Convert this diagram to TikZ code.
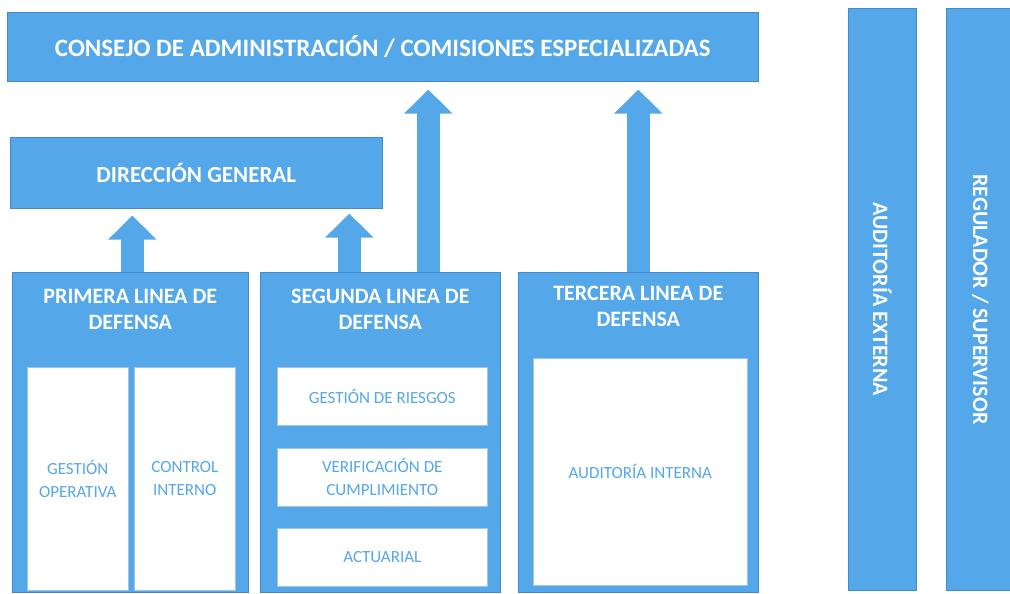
\documentclass[tikz,border=0pt]{standalone}
\usepackage{fontspec}
\setmainfont{Carlito}
\usetikzlibrary{arrows.meta}
\usetikzlibrary{positioning}
\definecolor{lod_blue}{RGB}{84,167,233}
\definecolor{lod_edge}{RGB}{66,138,200}
\tikzstyle{blue_box} = [
    rectangle, 
    draw=lod_edge, 
    fill=lod_blue, 
    line width=0.6pt, 
    text=white, 
    font=\bfseries\fontsize{23}{27}\selectfont, 
    align=center, 
    inner sep=0pt
]
\tikzstyle{white_box} = [
    rectangle, 
    draw=lod_edge!50, 
    fill=white, 
    line width=0.6pt, 
    text=lod_blue, 
    font=\fontsize{17}{23}\selectfont, 
    align=center, 
    inner sep=0pt
]
\tikzstyle{title_text} = [
    text=white, 
    font=\bfseries\fontsize{22}{26}\selectfont, 
    align=center, 
    inner sep=0pt
]
\tikzstyle{up_arrow} = [
    draw=lod_blue, 
    line width=23pt, 
    -{Triangle[width=47pt, length=24pt]}
]

\begin{document}
\begin{tikzpicture}[x=1pt, y=-1pt]
\useasboundingbox (0,0) rectangle (1010,594);

% top levels
\node [blue_box, anchor=north west, minimum width=751pt, minimum height=69pt,
    font=\bfseries\fontsize{25}{30}\selectfont] (consejo) at (7,12)
    {CONSEJO DE ADMINISTRACIÓN / COMISIONES ESPECIALIZADAS};
\node [blue_box, anchor=north west, minimum width=372pt, minimum height=71pt] (direccion) at (10,137)
    {DIRECCIÓN GENERAL};

% the three lines of defense
\node [blue_box, anchor=north west, minimum width=236pt, minimum height=320pt] (primera) at (12,272) {};
\node [blue_box, anchor=north west, minimum width=240pt, minimum height=320pt] (segunda) at (260,272) {};
\node [blue_box, anchor=north west, minimum width=240pt, minimum height=320pt] (tercera) at (518,272) {};

\node [title_text] (primera_t) at ([yshift=-37pt]primera.north) {PRIMERA LINEA DE\\DEFENSA};
\node [title_text] (segunda_t) at ([yshift=-37pt]segunda.north) {SEGUNDA LINEA DE\\DEFENSA};
\node [title_text] (tercera_t) at ([yshift=-34pt]tercera.north) {TERCERA LINEA DE\\DEFENSA};

\node [white_box, anchor=north west, minimum width=101pt, minimum height=223pt] (gestion_op) at (27,367)
    {GESTIÓN\\OPERATIVA};
\node [white_box, anchor=north west, minimum width=101pt, minimum height=223pt] (control) at (134,367)
    {CONTROL\\INTERNO};

\node [white_box, anchor=north west, minimum width=210pt, minimum height=58pt] (riesgos) at (277,367)
    {GESTIÓN DE RIESGOS};
\node [white_box, minimum width=210pt, minimum height=58pt, below=22pt of riesgos] (cumplimiento)
    {VERIFICACIÓN DE\\CUMPLIMIENTO};
\node [white_box, minimum width=210pt, minimum height=58pt, below=22pt of cumplimiento] (actuarial)
    {ACTUARIAL};

\node [white_box, anchor=north west, minimum width=214pt, minimum height=227pt] (aud_int) at (533,358)
    {AUDITORÍA INTERNA};

% outside parties
\node [blue_box, anchor=north west, minimum width=68pt, minimum height=582pt] (aud_ext) at (848,8) {};
\node [blue_box, anchor=north west, minimum width=68pt, minimum height=582pt] (regulador) at (946,8) {};
\node [title_text, rotate=-90] at (aud_ext.center) {AUDITORÍA EXTERNA};
\node [title_text, rotate=-90] at (regulador.center) {REGULADOR / SUPERVISOR};

% reporting arrows
\draw [up_arrow, shorten >=7pt] ([xshift=2pt]primera.north) -- ([xshift=2pt]primera.north |- direccion.south);
\draw [up_arrow, shorten >=5pt] ([xshift=-31pt]segunda.north) -- ([xshift=-31pt]segunda.north |- direccion.south);
\draw [up_arrow, shorten >=8pt] ([xshift=48pt]segunda.north) -- ([xshift=48pt]segunda.north |- consejo.south);
\draw [up_arrow, shorten >=8pt] (tercera.north) -- (tercera.north |- consejo.south);
\end{tikzpicture}
\end{document}
